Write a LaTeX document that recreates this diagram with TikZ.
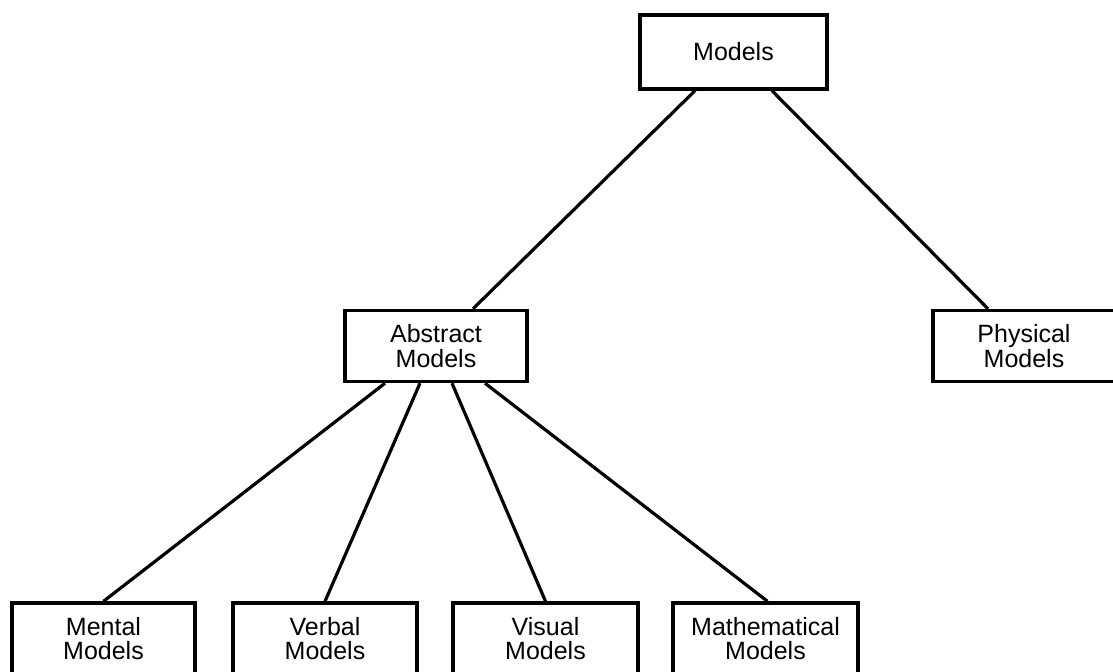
\documentclass[tikz,border=0pt]{standalone}
\usepackage{fontspec}
\setmainfont{Liberation Sans}
\usetikzlibrary{calc}
\begin{document}
\begin{tikzpicture}[x=0.5pt,y=-0.5pt,
  box/.style={draw=black,line width=1.7pt,align=center,inner sep=0pt,
    font=\fontsize{12.5pt}{12.2pt}\selectfont,minimum height=35.5pt},
  link/.style={draw=black,line width=1.6pt}]
\useasboundingbox (0,0) rectangle (1113,671);
\node[box,minimum width=93.5pt,minimum height=37pt] (models) at (733.5,52) {Models};
\node[box,minimum width=91pt] (abs) at (436,346) {Abstract\\Models};
\node[box,minimum width=91pt] (phys) at (1024,346) {Physical\\Models};
\node[box,minimum width=91.5pt] (mental) at (103.5,638.5) {Mental\\Models};
\node[box,minimum width=92pt] (verbal) at (325,638.5) {Verbal\\Models};
\node[box,minimum width=92.5pt] (visual) at (545.5,638.5) {Visual\\Models};
\node[box,minimum width=92.5pt] (math) at (765.5,638.5) {Mathematical\\Models};
\draw[link] ([xshift=-19.25pt]models.south) -- ([xshift=18.5pt]abs.north);
\draw[link] ([xshift=19.25pt]models.south) -- ([xshift=-18pt]phys.north);
\draw[link] ([xshift=-25.5pt]abs.south) -- (mental.north);
\draw[link] ([xshift=-8pt]abs.south) -- (verbal.north);
\draw[link] ([xshift=8pt]abs.south) -- (visual.north);
\draw[link] ([xshift=24.5pt]abs.south) -- ([xshift=1pt]math.north);
\end{tikzpicture}
\end{document}
